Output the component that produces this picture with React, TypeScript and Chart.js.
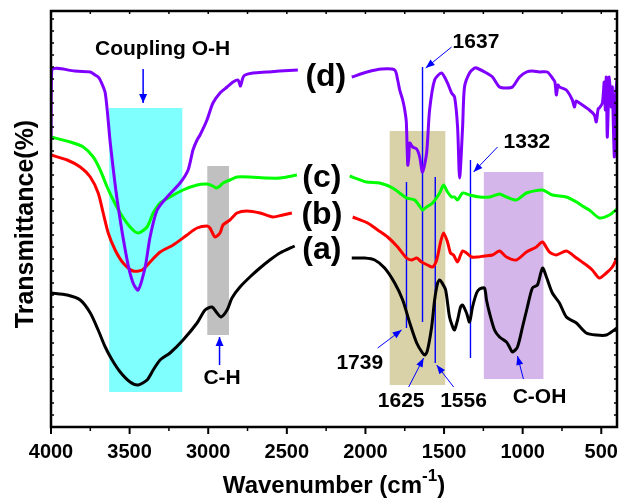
import React, { useEffect, useRef } from "react";
import { Chart, registerables } from "chart.js";
Chart.register(...registerables);

// ---------- DATA (wavenumber in cm-1, transmittance in arbitrary offset units) ----------
// (d) purple
const dLeftWn = [4000, 3995, 3850, 3750, 3720, 3700, 3687, 3655, 3623, 3579, 3516, 3478, 3446, 3401, 3370, 3325, 3262, 3179, 3128, 3097, 3071, 3052, 3008, 2970, 2925, 2880, 2842, 2810, 2795, 2780, 2766, 2715, 2627, 2545, 2430];
const dLeftT = [290, 357, 356, 355, 352, 350, 347, 334, 284, 227, 167, 144, 137, 160, 190, 217, 230, 244, 257, 277, 287, 292, 307, 324, 334, 340, 345, 347, 341, 349, 352, 354, 355, 356, 357];
const dRightWn = [2087, 1990, 1897, 1814, 1795, 1782, 1763, 1750, 1740, 1731, 1724, 1718, 1700, 1674, 1655, 1637, 1611, 1592, 1560, 1516, 1478, 1452, 1433, 1414, 1401, 1382, 1370, 1338, 1306, 1293, 1230, 1192, 1147, 1103, 1065, 1020, 976, 938, 893, 843, 811, 795, 786, 775, 766, 722, 684, 671, 660, 639, 576, 544, 532, 520, 512, 493, 481, 474, 468, 462, 455, 449, 436, 430, 417, 410, 400];
const dRightT = [350, 355, 358, 357, 347, 337, 327, 317, 305, 262, 270, 284, 280, 278, 270, 255, 274, 317, 347, 354, 344, 334, 330, 300, 249, 300, 340, 354, 359, 359, 354, 350, 340, 339, 340, 350, 355, 356, 355, 355, 349, 345, 332, 342, 340, 337, 327, 320, 326, 324, 317, 312, 305, 318, 319, 324, 345, 317, 350, 290, 322, 350, 320, 340, 270, 330, 347];

// (c) green
const cLeftWn = [4000, 3877, 3795, 3731, 3687, 3643, 3604, 3560, 3497, 3446, 3389, 3350, 3306, 3243, 3160, 3071, 3008, 2970, 2950, 2925, 2906, 2862, 2817, 2735, 2627, 2544, 2436];
const cLeftT = [290, 285, 280, 270, 257, 240, 227, 214, 200, 194, 200, 214, 224, 230, 237, 242, 243, 241, 239, 241, 244, 247, 250, 250, 249, 249, 252];
const cRightWn = [2100, 1992, 1910, 1827, 1738, 1687, 1643, 1637, 1611, 1573, 1528, 1503, 1478, 1452, 1433, 1414, 1382, 1338, 1274, 1211, 1147, 1103, 1040, 976, 874, 811, 722, 658, 620, 576, 512, 449, 400];
const cRightT = [251, 245, 244, 239, 229, 227, 218, 217, 220, 224, 234, 242, 235, 230, 230, 227, 234, 232, 230, 230, 233, 230, 227, 234, 237, 232, 230, 225, 221, 217, 209, 212, 218];

// (b) red
const bLeftWn = [4000, 3897, 3814, 3750, 3700, 3668, 3636, 3592, 3541, 3478, 3420, 3370, 3306, 3223, 3135, 3071, 3008, 2989, 2957, 2925, 2906, 2862, 2817, 2754, 2671, 2589, 2525, 2468];
const bLeftT = [272, 267, 260, 250, 234, 214, 194, 177, 164, 156, 157, 165, 175, 182, 192, 199, 201, 199, 190, 194, 202, 207, 214, 216, 214, 210, 212, 214];
const bRightWn = [2081, 1986, 1922, 1859, 1795, 1738, 1706, 1674, 1643, 1605, 1573, 1547, 1522, 1503, 1478, 1459, 1440, 1414, 1395, 1382, 1357, 1325, 1287, 1243, 1192, 1147, 1103, 1040, 976, 913, 874, 830, 786, 722, 658, 595, 557, 512, 468, 430, 400];
const bRightT = [210, 204, 197, 190, 180, 169, 167, 169, 165, 162, 160, 167, 185, 194, 185, 174, 172, 165, 172, 176, 174, 170, 170, 171, 172, 176, 170, 167, 175, 180, 185, 175, 172, 176, 169, 162, 157, 149, 154, 160, 169];

// (a) black
const aLeftWn = [4000, 3897, 3814, 3750, 3700, 3655, 3611, 3560, 3497, 3446, 3389, 3350, 3306, 3243, 3160, 3071, 3020, 2976, 2944, 2919, 2880, 2849, 2798, 2735, 2671, 2608, 2544, 2450];
const aLeftT = [134, 132, 127, 114, 97, 80, 67, 55, 45, 42, 47, 57, 67, 74, 87, 104, 117, 120, 114, 110, 117, 129, 140, 150, 159, 167, 174, 181];
const aRightWn = [2087, 2005, 1941, 1878, 1814, 1763, 1718, 1674, 1637, 1621, 1605, 1579, 1560, 1541, 1528, 1516, 1490, 1465, 1440, 1433, 1414, 1395, 1382, 1357, 1338, 1319, 1293, 1274, 1243, 1230, 1211, 1179, 1147, 1103, 1084, 1065, 1033, 1001, 970, 938, 906, 874, 849, 811, 766, 722, 658, 595, 532, 468, 400];
const aRightT = [169, 169, 167, 159, 144, 127, 104, 84, 74, 72, 77, 100, 127, 144, 147, 145, 137, 110, 98, 97, 107, 120, 122, 114, 105, 120, 134, 138, 139, 127, 114, 97, 90, 85, 80, 75, 80, 100, 120, 139, 142, 159, 150, 134, 124, 110, 104, 94, 92, 92, 99];

const seriesNames = ["(d)", "(c)", "(b)", "(a)"];
const seriesColors = ["#8000FF", "#00FF00", "#FF0000", "#000000"];
const xTickValues = [4000, 3500, 3000, 2500, 2000, 1500, 1000, 500];
const xTickLabels = ["4000", "3500", "3000", "2500", "2000", "1500", "1000", "500"];

// shaded bands: wavenumber range and vertical extent
const bandFrom = [3630, 3006, 1846, 1247];
const bandTo = [3165, 2868, 1492, 868];
const bandLow = [35, 92, 42, 48];
const bandHigh = [319, 261, 296, 255];
const bandColors = ["#80FFFF", "#C0C0C0", "#D9D2A9", "#D4B6EA"];

// vertical peak markers
const peakWn = [1739, 1637, 1556, 1332];
const peakLow = [99, 105, 64, 69];
const peakHigh = [245, 360, 250, 267];

// annotation texts and arrows
const noteText = ["Coupling O-H", "C-H", "1637", "1332", "1739", "1625", "1556", "C-OH"];
const noteWn = [3290, 2912, 1297, 973, 2036, 1773, 1376, 893];
const noteT = [378, 49, 385, 285, 64, 26, 26, 30];
const arrowFromWn = [3414, 2928, 1452, 1160, 1922, 1725, 1439, 995];
const arrowFromT = [358, 62, 380, 280, 79, 40, 40, 48];
const arrowToWn = [3414, 2928, 1617, 1312, 1770, 1630, 1547, 1033];
const arrowToT = [324, 90, 359, 255, 97, 69, 62, 71];

// series labels positions
const labelWn = [2252, 2277, 2277, 2277];
const labelT = [350, 249, 212, 177];

const FONT = '"Liberation Sans", Arial, Helvetica, sans-serif';

function joinSeg(lw: number[], lt: number[], rw: number[], rt: number[]) {
  const pts: { x: number; y: number | null }[] = lw.map((x, i) => ({ x, y: lt[i] }));
  pts.push({ x: 2260, y: null });
  rw.forEach((x, i) => pts.push({ x, y: rt[i] }));
  return pts;
}

function arrowHead(ctx: CanvasRenderingContext2D, x1: number, y1: number, x2: number, y2: number, len: number, half: number) {
  const ang = Math.atan2(y2 - y1, x2 - x1);
  ctx.beginPath();
  ctx.moveTo(x2, y2);
  ctx.lineTo(x2 - len * Math.cos(ang) + half * Math.sin(ang), y2 - len * Math.sin(ang) - half * Math.cos(ang));
  ctx.lineTo(x2 - len * Math.cos(ang) - half * Math.sin(ang), y2 - len * Math.sin(ang) + half * Math.cos(ang));
  ctx.closePath();
  ctx.fill();
}

const decorPlugin = {
  id: "decor",
  beforeDatasetsDraw(chart: any) {
    const ctx: CanvasRenderingContext2D = chart.ctx;
    const xs = chart.scales.x;
    const ys = chart.scales.y;
    ctx.save();
    bandFrom.forEach((f, i) => {
      const x1 = xs.getPixelForValue(f);
      const x2 = xs.getPixelForValue(bandTo[i]);
      const y1 = ys.getPixelForValue(bandHigh[i]);
      const y2 = ys.getPixelForValue(bandLow[i]);
      ctx.fillStyle = bandColors[i];
      ctx.fillRect(x1, y1, x2 - x1, y2 - y1);
    });
    ctx.strokeStyle = "#0000FF";
    ctx.lineWidth = 1.4;
    peakWn.forEach((w, i) => {
      const x = xs.getPixelForValue(w);
      ctx.beginPath();
      ctx.moveTo(x, ys.getPixelForValue(peakHigh[i]));
      ctx.lineTo(x, ys.getPixelForValue(peakLow[i]));
      ctx.stroke();
    });
    ctx.restore();
  },
  afterDatasetsDraw(chart: any) {
    const ctx: CanvasRenderingContext2D = chart.ctx;
    const xs = chart.scales.x;
    const ys = chart.scales.y;
    const a = chart.chartArea;
    ctx.save();
    // arrows
    ctx.strokeStyle = "#0000FF";
    ctx.fillStyle = "#0000FF";
    arrowFromWn.forEach((w, i) => {
      const x1 = xs.getPixelForValue(w);
      const y1 = ys.getPixelForValue(arrowFromT[i]);
      const x2 = xs.getPixelForValue(arrowToWn[i]);
      const y2 = ys.getPixelForValue(arrowToT[i]);
      ctx.lineWidth = i < 2 ? 1.5 : 1;
      ctx.beginPath();
      ctx.moveTo(x1, y1);
      ctx.lineTo(x2, y2);
      ctx.stroke();
      arrowHead(ctx, x1, y1, x2, y2, 9, i < 2 ? 4 : 3.5);
    });
    // annotation texts
    ctx.fillStyle = "#000";
    ctx.textAlign = "center";
    ctx.textBaseline = "middle";
    ctx.font = `bold 21px ${FONT}`;
    noteText.forEach((t, i) => {
      ctx.fillText(t, xs.getPixelForValue(noteWn[i]), ys.getPixelForValue(noteT[i]));
    });
    ctx.font = `bold 32px ${FONT}`;
    seriesNames.forEach((t, i) => {
      ctx.fillText(t, xs.getPixelForValue(labelWn[i]), ys.getPixelForValue(labelT[i]));
    });
    // frame
    ctx.strokeStyle = "#000";
    ctx.lineWidth = 2.5;
    ctx.strokeRect(a.left, a.top, a.right - a.left, a.bottom - a.top);
    // x ticks: bottom outward (major longer), top inward
    for (let w = 4000; w >= 400; w -= 250) {
      const x = xs.getPixelForValue(w);
      const major = w % 500 === 0;
      ctx.lineWidth = major ? 2 : 1.5;
      ctx.beginPath();
      ctx.moveTo(x, a.bottom);
      ctx.lineTo(x, a.bottom + (major ? 7 : 4));
      ctx.stroke();
      ctx.lineWidth = 1.5;
      ctx.beginPath();
      ctx.moveTo(x, a.top);
      ctx.lineTo(x, a.top + 3);
      ctx.stroke();
    }
    // y ticks inward
    ctx.lineWidth = 1.5;
    for (let v = 0; v <= 416; v += 12) {
      const y = ys.getPixelForValue(v);
      ctx.beginPath();
      ctx.moveTo(a.left, y);
      ctx.lineTo(a.left + 3, y);
      ctx.moveTo(a.right, y);
      ctx.lineTo(a.right - 3, y);
      ctx.stroke();
    }
    // x tick labels
    ctx.fillStyle = "#000";
    ctx.textAlign = "center";
    ctx.textBaseline = "alphabetic";
    ctx.font = `bold 20px ${FONT}`;
    xTickValues.forEach((v, i) => {
      ctx.fillText(xTickLabels[i], xs.getPixelForValue(v), a.bottom + 31);
    });
    // axis titles
    ctx.textAlign = "left";
    const mainFont = `bold 24px ${FONT}`;
    const supFont = `bold 17px ${FONT}`;
    ctx.font = mainFont;
    const p1 = "Wavenumber (cm";
    const p3 = ")";
    const w1 = ctx.measureText(p1).width;
    const w3 = ctx.measureText(p3).width;
    ctx.font = supFont;
    const w2 = ctx.measureText("-1").width;
    const total = w1 + w2 + w3;
    const cx = (a.left + a.right) / 2;
    const sx = cx - total / 2;
    const by = a.bottom + 66;
    ctx.font = mainFont;
    ctx.fillText(p1, sx, by);
    ctx.font = supFont;
    ctx.fillText("-1", sx + w1, by - 12);
    ctx.font = mainFont;
    ctx.fillText(p3, sx + w1 + w2, by);
    // y title
    ctx.save();
    ctx.translate(33, (a.top + a.bottom) / 2 + 5);
    ctx.rotate(-Math.PI / 2);
    ctx.textAlign = "center";
    ctx.font = `bold 25px ${FONT}`;
    ctx.fillText("Transmittance(%)", 0, 0);
    ctx.restore();
    ctx.restore();
  },
};

export default function App() {
  const ref = useRef<HTMLCanvasElement | null>(null);
  useEffect(() => {
    if (!ref.current) return;
    const datasets = [
      joinSeg(dLeftWn, dLeftT, dRightWn, dRightT),
      joinSeg(cLeftWn, cLeftT, cRightWn, cRightT),
      joinSeg(bLeftWn, bLeftT, bRightWn, bRightT),
      joinSeg(aLeftWn, aLeftT, aRightWn, aRightT),
    ].map((data, i) => ({
      label: seriesNames[i],
      data,
      borderColor: seriesColors[i],
      backgroundColor: seriesColors[i],
      borderWidth: 3,
      pointRadius: 0,
      tension: 0.25,
      spanGaps: false,
      fill: false,
    }));
    const chart = new Chart(ref.current, {
      type: "line",
      data: { datasets },
      plugins: [decorPlugin],
      options: {
        animation: false,
        responsive: false,
        devicePixelRatio: 1,
        layout: { padding: { left: 51, right: 4, top: 11, bottom: 73 } },
        plugins: { legend: { display: false }, tooltip: { enabled: false } },
        scales: {
          x: { type: "linear", display: false, reverse: true, min: 400, max: 4000 },
          y: { type: "linear", display: false, min: 0, max: 416 },
        },
      } as any,
    });
    return () => chart.destroy();
  }, []);
  return (
    <div style={{ position: "fixed", left: 0, top: 0, width: 621, height: 500, background: "#fff" }}>
      <canvas ref={ref} width={621} height={500} style={{ display: "block" }} />
    </div>
  );
}
